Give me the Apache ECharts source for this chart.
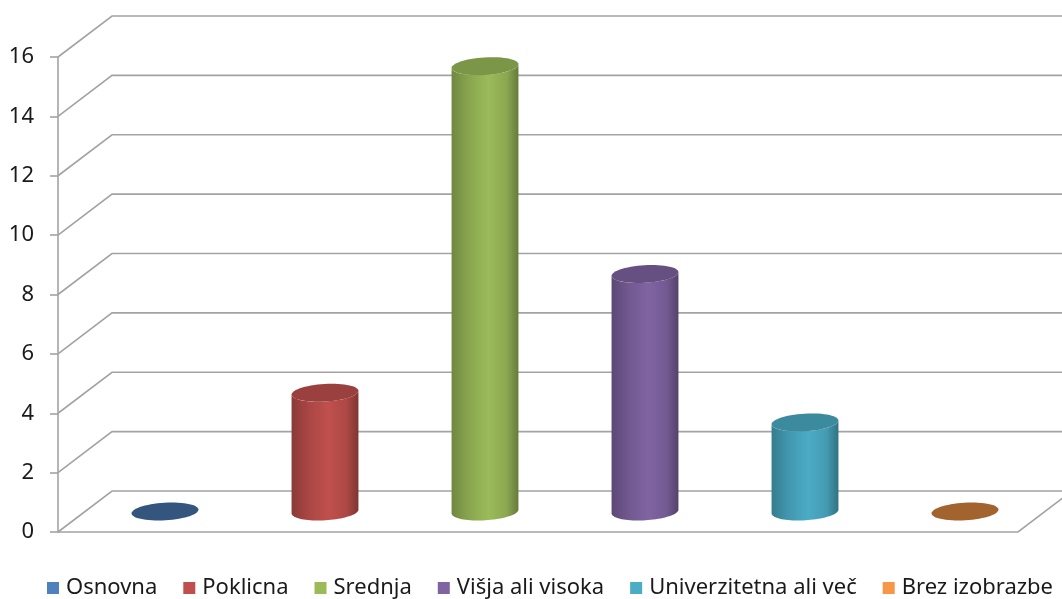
<!DOCTYPE html>
<html>
<head>
<meta charset="utf-8">
<style>
  html, body { margin: 0; padding: 0; background: #ffffff; }
  #chart { width: 1062px; height: 599px; }
</style>
<script src="https://cdn.jsdelivr.net/npm/echarts@6/dist/echarts.min.js"></script>
</head>
<body>
<div id="chart"></div>
<script>
// Education level counts
const categories = ['Osnovna', 'Poklicna', 'Srednja', 'Višja ali visoka', 'Univerzitetna ali več', 'Brez izobrazbe'];
const values = [0, 4, 15, 8, 3, 0];
const colors = ['#4F81BD', '#C0504D', '#9BBB59', '#8064A2', '#4BACC6', '#F79646'];
const yTicks = [0, 2, 4, 6, 8, 10, 12, 14, 16];

// depth of the pseudo-3D box (pixels) and cylinder geometry
const DX = 54, DY = -41;
const RX = 33.5, RY = 8.8, TILT = 0.06;
const WALL = '#a3a3a3';

function shade(hex, f) {
  const n = parseInt(hex.slice(1), 16);
  const ch = [(n >> 16) & 255, (n >> 8) & 255, n & 255].map(function (c) {
    return Math.max(0, Math.min(255, Math.round(c * f)));
  });
  return 'rgb(' + ch.join(',') + ')';
}

function ellipsePts(cx, cy, t0, t1, steps) {
  const ux = Math.cos(TILT), uy = -Math.sin(TILT);
  const vx = Math.sin(TILT), vy = Math.cos(TILT);
  const pts = [];
  for (let i = 0; i <= steps; i++) {
    const t = t0 + (t1 - t0) * i / steps;
    const a = RX * Math.cos(t), b = RY * Math.sin(t);
    pts.push([cx + a * ux + b * vx, cy + a * uy + b * vy]);
  }
  return pts;
}

// back wall, left wall and floor lines
function renderWall(params, api) {
  const cs = params.coordSys;
  const v = api.value(0);
  const y = api.coord([categories[0], v])[1];
  const x0 = cs.x;
  const W = api.getWidth();
  const children = [
    { type: 'polyline', shape: { points: [[x0, y], [x0 + DX, y + DY], [W + 5, y + DY]] },
      style: { stroke: WALL, lineWidth: 1.6, fill: null } }
  ];
  if (v === 0) {
    const x1 = cs.x + cs.width;
    children.push({ type: 'polyline', shape: { points: [[x0, y], [x1, y], [x1 + DX, y + DY]] },
      style: { stroke: WALL, lineWidth: 1.6, fill: null } });
  }
  return { type: 'group', children: children };
}

function makeCylinderRenderer(color) {
  return function (params, api) {
    const val = api.value(1);
    const top = api.coord([api.value(0), val]);
    const base = api.coord([api.value(0), 0]);
    const cx = top[0] + DX / 2;
    const cyTop = top[1] + DY / 2;
    const cyBot = base[1] + DY / 2;
    if (val === 0) {
      return { type: 'polygon', shape: { points: ellipsePts(cx, cyBot, 0, Math.PI * 2, 60) },
        style: { fill: shade(color, 0.66) } };
    }
    const body = ellipsePts(cx, cyBot, 0, Math.PI, 40).concat(ellipsePts(cx, cyTop, Math.PI, 0, 40));
    return {
      type: 'group',
      children: [
        { type: 'polygon', shape: { points: body },
          style: { fill: new echarts.graphic.LinearGradient(0, 0, 1, 0, [
            { offset: 0, color: shade(color, 0.72) },
            { offset: 0.25, color: shade(color, 0.88) },
            { offset: 0.55, color: shade(color, 1.0) },
            { offset: 0.82, color: shade(color, 0.9) },
            { offset: 1, color: shade(color, 0.66) }
          ]) } },
        { type: 'polygon', shape: { points: ellipsePts(cx, cyTop, 0, Math.PI * 2, 60) },
          style: { fill: shade(color, 0.8) } }
      ]
    };
  };
}

const series = [{
  name: 'wall',
  type: 'custom',
  renderItem: renderWall,
  data: yTicks.map(function (v) { return [v]; }),
  encode: { y: 0 },
  silent: true,
  z: 1
}];
categories.forEach(function (c, i) {
  series.push({
    name: c,
    type: 'custom',
    renderItem: makeCylinderRenderer(colors[i]),
    data: [[i, values[i]]],
    encode: { x: 0, y: 1 },
    itemStyle: { color: colors[i] },
    z: 2
  });
});

const chart = echarts.init(document.getElementById('chart'), null, { renderer: 'canvas' });
chart.setOption({
  animation: false,
  backgroundColor: '#ffffff',
  grid: { left: 58, right: 44, top: 57, bottom: 67, containLabel: false },
  xAxis: {
    type: 'category',
    data: categories,
    show: false
  },
  yAxis: {
    type: 'value',
    min: 0, max: 16, interval: 2,
    axisLine: { show: true, lineStyle: { color: WALL, width: 1.6 } },
    axisTick: { show: true, length: 8, lineStyle: { color: WALL, width: 1.6 } },
    axisLabel: { margin: 24, fontSize: 22, color: '#1a1a1a', fontFamily: 'Noto Sans' },
    splitLine: { show: false }
  },
  legend: {
    data: categories,
    top: 572,
    left: 42,
    icon: 'rect',
    itemWidth: 12,
    itemHeight: 12,
    itemGap: 26,
    textStyle: { fontSize: 22, color: '#1a1a1a', fontFamily: 'Noto Sans', padding: [0, 0, 0, 2] }
  },
  series: series
});
</script>
</body>
</html>
